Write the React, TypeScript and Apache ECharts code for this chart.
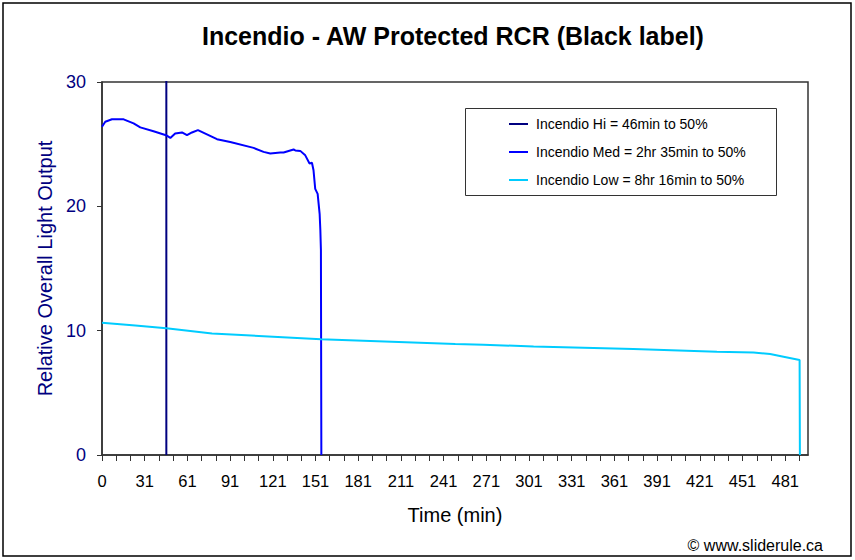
import React, { useEffect, useRef } from "react";
import * as echarts from "echarts";

const chartTitle = "Incendio - AW Protected RCR (Black label)";
const yAxisName = "Relative Overall Light Output";
const xAxisName = "Time (min)";
const credit = "© www.sliderule.ca";

const seriesNames = [
  "Incendio Hi = 46min to 50%",
  "Incendio Med = 2hr 35min to 50%",
  "Incendio Low = 8hr 16min to 50%",
];
const seriesColors = ["#000080", "#0000FF", "#00CCFF"];

// x tick labels, one every 30 minutes
const xTickLabels = ["0", "31", "61", "91", "121", "151", "181", "211", "241", "271", "301", "331", "361", "391", "421", "451", "481"];

// Hi: off-scale (above 30) until the step-down at ~45 min
const hiTime = [0, 45.2, 45.2];
const hiValue = [60, 55, 0];

const medTime = [0, 2.3, 7.0, 15.2, 22.2, 26.9, 36.2, 45.0, 48.0, 51.4, 56.2, 59.7, 63.2, 67.4, 80.8, 90.1, 106.5, 113.5, 118.2, 125.3, 127.6, 134.6, 135.8, 139.3, 142.8, 145.8, 147.5, 148.6, 149.8, 151.5, 152.9, 153.4, 153.8, 154.1];
const medValue = [26.4, 26.8, 27.0, 27.0, 26.67, 26.35, 26.04, 25.72, 25.5, 25.85, 25.94, 25.72, 25.94, 26.13, 25.4, 25.17, 24.7, 24.38, 24.25, 24.33, 24.33, 24.57, 24.5, 24.46, 24.1, 23.45, 23.5, 22.9, 21.4, 21.0, 19.4, 18.1, 16.5, 0];

const lowTime = [0, 23.4, 45.2, 77.3, 153.8, 248.2, 268.0, 303.2, 373.4, 432.0, 457.7, 469.4, 478.8, 490.1, 490.3];
const lowValue = [10.63, 10.42, 10.2, 9.78, 9.3, 8.92, 8.87, 8.73, 8.52, 8.3, 8.25, 8.12, 7.9, 7.64, 0];

const zip = (t: number[], v: number[]) => t.map((x, i) => [x, v[i]]);

const FONT = "'Liberation Sans', Arial, sans-serif";

export default function App() {
  const ref = useRef<HTMLDivElement>(null);

  useEffect(() => {
    if (!ref.current) return;
    const chart = echarts.init(ref.current, undefined, { renderer: "svg" });
    const axisColor = "#333333";
    chart.setOption({
      animation: false,
      backgroundColor: "#ffffff",
      textStyle: { fontFamily: FONT },
      title: {
        text: chartTitle,
        left: 202,
        top: 23,
        padding: 0,
        textStyle: { fontFamily: FONT, fontSize: 25, fontWeight: "bold", color: "#000" },
      },
      grid: {
        left: 102,
        top: 82,
        right: 47,
        bottom: 105,
        show: true,
        borderColor: axisColor,
        borderWidth: 1.5,
        backgroundColor: "#ffffff",
      },
      legend: {
        orient: "vertical",
        left: 509,
        top: 117,
        padding: 0,
        icon: "rect",
        itemWidth: 19,
        itemHeight: 2,
        itemGap: 14,
        data: seriesNames,
        textStyle: { fontFamily: FONT, fontSize: 14, lineHeight: 14, color: "#000", padding: [0, 0, 0, 3] },
        z: 10,
      },
      xAxis: {
        type: "value",
        min: 0,
        max: 496,
        interval: 10,
        name: xAxisName,
        nameLocation: "middle",
        nameGap: 50,
        nameTextStyle: { fontFamily: FONT, fontSize: 20, color: "#000" },
        axisLine: { show: true, lineStyle: { color: axisColor, width: 1.5 } },
        axisTick: { show: true, inside: false, length: 6, lineStyle: { color: axisColor, width: 1 } },
        axisLabel: {
          margin: 17,
          fontFamily: FONT,
          fontSize: 16.5,
          color: "#000",
          showMaxLabel: false,
          formatter: (v: number) => (v % 30 === 0 ? xTickLabels[v / 30] ?? "" : ""),
        },
        splitLine: { show: false },
      },
      yAxis: {
        type: "value",
        min: 0,
        max: 30,
        interval: 10,
        name: yAxisName,
        nameLocation: "middle",
        nameGap: 46,
        nameTextStyle: { fontFamily: FONT, fontSize: 20, color: "#000080" },
        axisLine: { show: true, lineStyle: { color: axisColor, width: 1.5 } },
        axisTick: { show: true, inside: false, length: 5, lineStyle: { color: axisColor, width: 1 } },
        axisLabel: { margin: 16, fontFamily: FONT, fontSize: 18, color: "#000080" },
        splitLine: { show: false },
      },
      series: [
        { name: seriesNames[0], type: "line", data: zip(hiTime, hiValue), color: seriesColors[0] },
        { name: seriesNames[1], type: "line", data: zip(medTime, medValue), color: seriesColors[1] },
        { name: seriesNames[2], type: "line", data: zip(lowTime, lowValue), color: seriesColors[2] },
      ].map((s) => ({
        ...s,
        symbol: "none",
        clip: true,
        lineStyle: { width: 2, color: s.color },
        itemStyle: { color: s.color },
      })),
      graphic: [
        {
          type: "rect",
          z: 1,
          shape: { x: 3, y: 3, width: 848, height: 553 },
          style: { fill: "none", stroke: "#000", lineWidth: 1.5 },
          silent: true,
        },
        {
          type: "rect",
          z: 5,
          shape: { x: 465.5, y: 108.5, width: 311, height: 87 },
          style: { fill: "#fff", stroke: axisColor, lineWidth: 1 },
          silent: true,
        },
        {
          type: "text",
          z: 5,
          x: 823,
          y: 545,
          style: {
            text: credit,
            fontFamily: FONT,
            fontSize: 16,
            fill: "#000",
            align: "right",
            verticalAlign: "middle",
          },
        },
      ],
    });
    return () => chart.dispose();
  }, []);

  return (
    <div
      ref={ref}
      style={{ position: "fixed", left: 0, top: 0, width: 855, height: 560, background: "#fff" }}
    />
  );
}
